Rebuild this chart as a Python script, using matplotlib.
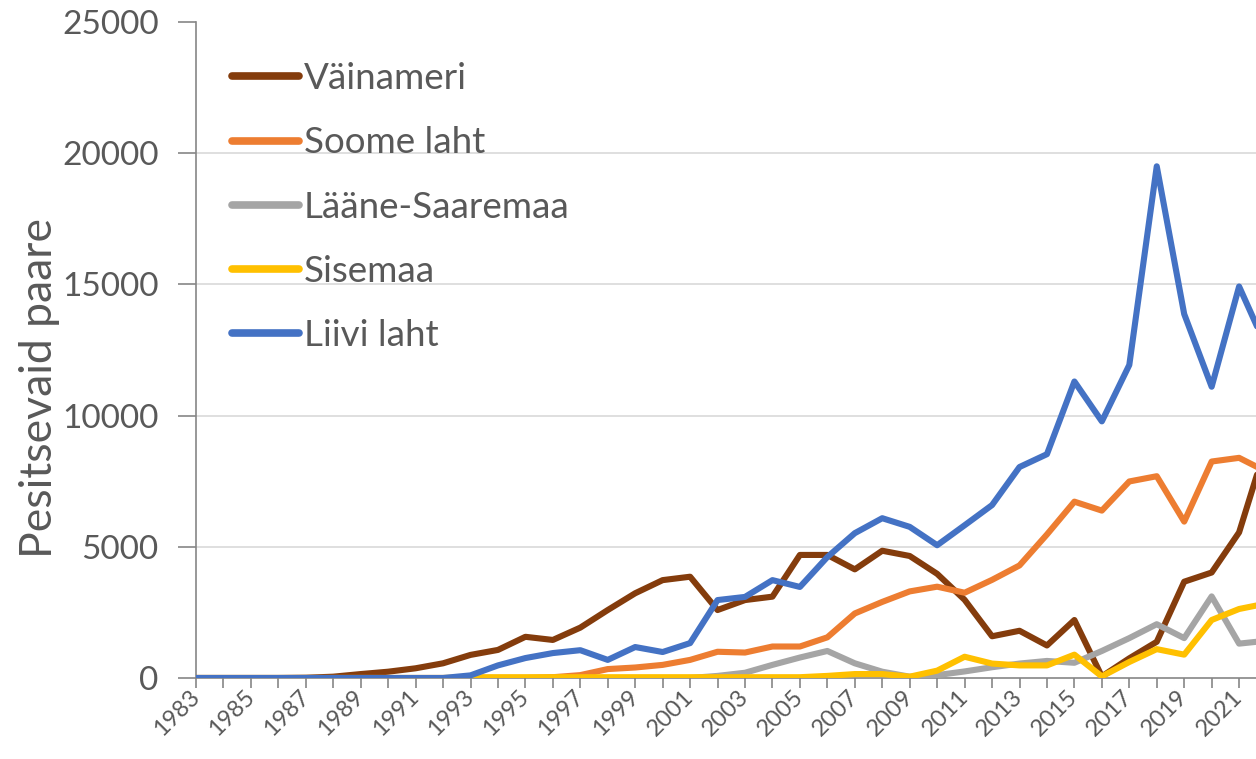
import matplotlib
matplotlib.use("Agg")
import matplotlib.pyplot as plt

years = list(range(1983, 2023))

vainameri = [0, 0, 0, 0, 10, 50, 150, 240, 370, 560, 880, 1070, 1570, 1450, 1920,
             2590, 3230, 3730, 3860, 2590, 2970, 3100, 4690, 4690, 4140, 4850, 4650,
             3970, 2980, 1590, 1800, 1240, 2210, 60, 750, 1380, 3670, 4020, 5550, 8920]
soome_laht = [0, 0, 0, 0, 0, 0, 0, 0, 0, 0, 0, 0, 0, 30, 110,
              340, 400, 500, 690, 1000, 970, 1200, 1200, 1550, 2460, 2900, 3300,
              3480, 3250, 3740, 4290, 5470, 6720, 6380, 7490, 7690, 5960, 8250, 8390, 7860]
laane_saaremaa = [0, 0, 0, 0, 0, 0, 0, 0, 0, 0, 0, 0, 0, 0, 0,
                  0, 0, 0, 0, 80, 200, 500, 780, 1030, 560, 240, 50,
                  110, 250, 410, 550, 650, 580, 1030, 1520, 2050, 1520, 3110, 1310, 1420]
sisemaa = [0, 0, 0, 0, 0, 0, 0, 0, 0, 0, 30, 30, 30, 30, 30,
           30, 30, 30, 30, 30, 30, 30, 30, 80, 150, 150, 50,
           280, 810, 550, 480, 480, 890, 60, 610, 1100, 890, 2210, 2630, 2840]
liivi_laht = [0, 0, 0, 0, 0, 0, 0, 0, 0, 0, 100, 480, 760, 950, 1060,
              690, 1180, 990, 1330, 2970, 3090, 3730, 3470, 4610, 5520, 6090, 5760,
              5060, 5820, 6590, 8040, 8530, 11300, 9780, 11930, 19500, 13870, 11100, 14920, 12590]

series_names = ["Väinameri", "Soome laht", "Lääne-Saaremaa", "Sisemaa", "Liivi laht"]
series_values = [vainameri, soome_laht, laane_saaremaa, sisemaa, liivi_laht]
series_colors = ["#843c0c", "#ed7d31", "#a5a5a5", "#ffc000", "#4472c4"]

y_ticks = [0, 5000, 10000, 15000, 20000, 25000]
grid_values = [5000, 10000, 15000, 20000]
x_label_years = list(range(1983, 2022, 2))
y_label = "Pesitsevaid paare"

FONT = ["Lato", "DejaVu Sans"]
TXT = "#595959"
AX = "#868686"

fig = plt.figure(figsize=(12.56, 7.59), dpi=100)
ax = fig.add_axes([196 / 1256, 1 - 678 / 759, 1 - 196 / 1256, (678 - 22) / 759])

for v in grid_values:
    ax.axhline(v, color="#d9d9d9", lw=1.2, zorder=1)

for name, vals, col in zip(series_names, series_values, series_colors):
    ax.plot(years, vals, color=col, lw=4.4, solid_joinstyle="round",
            solid_capstyle="round", zorder=3, label=name)

for s in ["top", "right"]:
    ax.spines[s].set_visible(False)
for s in ["left", "bottom"]:
    ax.spines[s].set_color(AX)
    ax.spines[s].set_linewidth(1.2)
    ax.spines[s].set_zorder(2)

ax.set_yticks(y_ticks)
ax.set_yticklabels([str(t) for t in y_ticks], fontsize=24, color=TXT, family=FONT)
ax.tick_params(axis="y", direction="out", length=13, width=1.2, color=AX, pad=14)

ax.set_xticks(years)
ax.set_xticklabels([str(y) if y in x_label_years else "" for y in years])
ax.tick_params(axis="x", direction="out", length=7, width=1.2, color=AX, pad=4)
for lab in ax.get_xticklabels():
    lab.set_rotation(45)
    lab.set_rotation_mode("anchor")
    lab.set_ha("right")
    lab.set_va("center")
    lab.set_fontsize(17)
    lab.set_color(TXT)
    lab.set_family(FONT)

ax.set_ylim(0, 25000)
ax.set_xlim(1983, 1983 + (1256 - 196) / 27.45)

ax.set_ylabel(y_label, fontsize=32, color=TXT, family=FONT)
ax.yaxis.set_label_coords(-0.128, (678 - 388) / 656)

leg = ax.legend(loc="upper left", bbox_to_anchor=(0.01, 0.978), frameon=False,
                handlelength=1.8, handletextpad=0.14, labelspacing=0.85,
                borderaxespad=0.3,
                prop={"family": FONT, "size": 26.5})
for t in leg.get_texts():
    t.set_color(TXT)
for h in leg.get_lines():
    h.set_linewidth(5.5)
    h.set_solid_capstyle("round")

fig.savefig("out.png", dpi=100)
